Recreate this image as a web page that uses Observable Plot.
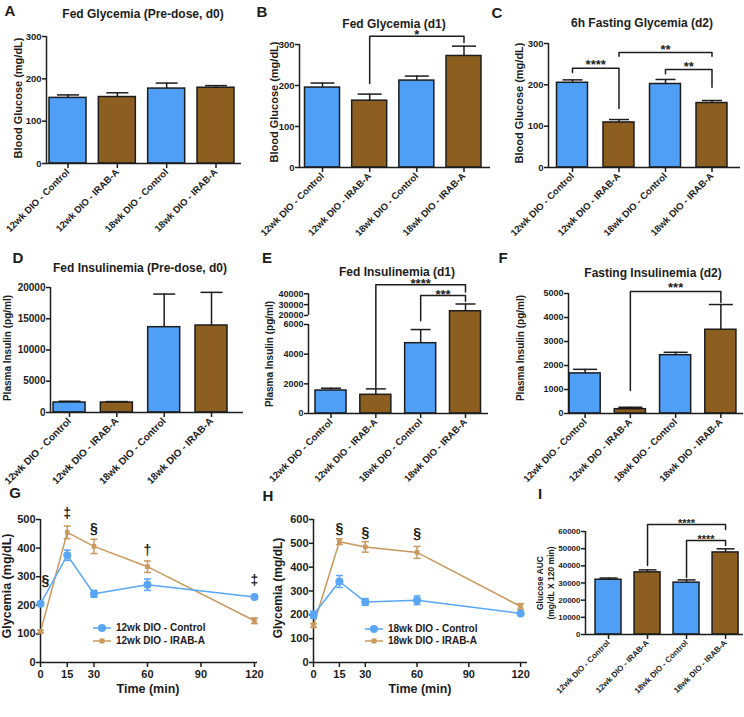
<!DOCTYPE html>
<html><head><meta charset="utf-8">
<script src="https://cdn.jsdelivr.net/npm/d3@7"></script>
<script src="https://cdn.jsdelivr.net/npm/@observablehq/plot@0.6"></script>
<style>
html,body{margin:0;padding:0;background:#fff;}
#fig{position:relative;width:744px;height:717px;overflow:hidden;font-family:'Liberation Sans',Arial,Helvetica,sans-serif;color:#1c1c1c;background:#fff;}
.panel{position:absolute;}
.panel svg{overflow:visible;}
.t{position:absolute;white-space:nowrap;line-height:1;font-weight:bold;transform:translate(-50%,-50%);}
.leg{position:absolute;display:flex;align-items:center;font-weight:bold;white-space:nowrap;line-height:1;}
</style></head><body><div id="fig"></div><script>
// ---------- data ----------
const groups = ["12wk DIO - Control", "12wk DIO - IRAB-A", "18wk DIO - Control", "18wk DIO - IRAB-A"];
const barColors = ["#4f9ff7", "#8c5f21", "#4f9ff7", "#8c5f21"];

const fedGlyD0Mean = [155, 157, 177, 179];
const fedGlyD0Sem  = [7, 10, 13, 5];
const fedGlyD1Mean = [195, 163, 212, 272];
const fedGlyD1Sem  = [11, 16, 11, 24];
const fastGlyD2Mean = [205, 109, 202, 156];
const fastGlyD2Sem  = [7, 7, 11, 6];
const fedInsD0Mean = [1600, 1600, 13650, 13920];
const fedInsD0Sem  = [200, 150, 5300, 5300];
const fedInsD1Mean = [1550, 1260, 4740, 23900];
const fedInsD1Sem  = [155, 400, 920, 6700];
const fastInsD2Mean = [1670, 180, 2430, 3490];
const fastInsD2Sem  = [170, 80, 120, 1050];
const aucMean = [31900, 36200, 30200, 47800];
const aucSem  = [1000, 1450, 1600, 2100];

const ticksGly = [0, 100, 200, 300];
const ticksInsD0 = [0, 5000, 10000, 15000, 20000];
const ticksInsD1 = [0, 2000, 4000, 6000, 20000, 30000, 40000];
const ticksInsD2 = [0, 1000, 2000, 3000, 4000, 5000];
const ticksAuc = [0, 10000, 20000, 30000, 40000, 50000, 60000];
const ticksG = [0, 100, 200, 300, 400, 500];
const ticksH = [0, 100, 200, 300, 400, 500, 600];
const timeTicks = [0, 15, 30, 60, 90, 120];

// significance brackets (group index from/to, bracket heights in data units)
const bracketsB = [{from: 2, to: 4, top: 320, yFrom: 205, yTo: 305, label: "*"}];
const bracketsC = [
  {from: 1, to: 2, top: 240, yFrom: 230, yTo: 143, label: "****"},
  {from: 2, to: 4, top: 278, yFrom: 269, yTo: 269, label: "**"},
  {from: 3, to: 4, top: 237, yFrom: 227, yTo: 194, label: "**"}
];
const bracketsE = [
  {from: 2, to: 4, top: 48300, yFrom: 1750, yTo: 41600, label: "****"},
  {from: 3, to: 4, top: 38400, yFrom: 12000, yTo: 33200, label: "***"}
];
const bracketsF = [{from: 2, to: 4, top: 5083, yFrom: 958, yTo: 4625, label: "***"}];
const bracketsI = [
  {from: 2, to: 4, top: 64080, yFrom: 40190, yTo: 61170, label: "****"},
  {from: 3, to: 4, top: 54760, yFrom: 33200, yTo: 51840, label: "****"}
];

// GTT time courses
const timeMin = [0, 15, 30, 60, 120];
const ctrl12 = [205, 375, 240, 272, 229];
const ctrl12Sem = [5, 18, 12, 20, 5];
const irab12 = [108, 455, 406, 335, 146];
const irab12Sem = [5, 22, 25, 20, 10];
const ctrl18 = [200, 340, 254, 261, 206];
const ctrl18Sem = [15, 25, 14, 18, 5];
const irab18 = [155, 507, 485, 462, 235];
const irab18Sem = [8, 12, 22, 25, 12];
const sigG = [{t: 0, y: 287, s: "§"}, {t: 15, y: 521, s: "‡"}, {t: 30, y: 468, s: "§"}, {t: 60, y: 392, s: "†"}, {t: 120, y: 287, s: "‡"}];
const sigH = [{t: 15, y: 562, s: "§"}, {t: 30, y: 545, s: "§"}, {t: 60, y: 541, s: "§"}];

// ---------- rendering ----------
const ink = "#1c1c1c";
const blue = "#58a6f5", tan = "#c8985c";
const FONT = "'Liberation Sans', Arial, Helvetica, sans-serif";
const fig = document.getElementById("fig");
const hline = {draw(ctx, size) { const r = Math.sqrt(size / Math.PI); ctx.moveTo(-r, 0); ctx.lineTo(r, 0); }};
const plain = d => String(d);

function place(svg, box) {
  const d = document.createElement("div");
  d.className = "panel";
  d.style.left = box[0] + "px"; d.style.top = box[1] + "px";
  d.appendChild(svg);
  fig.appendChild(d);
}
function addText(str, x, y, size, rotate) {
  const d = document.createElement("div");
  d.className = "t";
  d.textContent = str;
  d.style.left = x + "px"; d.style.top = y + "px"; d.style.fontSize = size + "px";
  if (rotate) d.style.transform = `translate(-50%,-50%) rotate(${rotate}deg)`;
  fig.appendChild(d);
}

function barPanel(p) {
  const rows = groups.map((g, k) => ({i: k + 1, g, mean: p.mean[k], sem: p.sem[k], color: barColors[k]}));
  const [left, top, w, h] = p.box;
  const segs = p.axisSegs || [[p.yDomain[0], p.yDomain[p.yDomain.length - 1]]];
  const marks = [
    Plot.rect(rows, {x1: d => d.i - p.hw, x2: d => d.i + p.hw, y1: 0, y2: "mean", fill: "color", stroke: ink, strokeWidth: 1.5}),
    Plot.ruleX(rows, {x: "i", y1: "mean", y2: d => d.mean + d.sem, stroke: ink, strokeWidth: 1.5}),
    Plot.dot(rows, {x: "i", y: d => d.mean + d.sem, r: p.cap, symbol: hline, fill: "none", stroke: ink, strokeWidth: 1.5}),
    Plot.ruleX(segs, {x: () => p.xDomain[0], y1: s => s[0], y2: s => s[1], stroke: ink, strokeWidth: 1.5}),
    Plot.ruleY([0], {stroke: ink, strokeWidth: 1.5}),
    Plot.axisY({ticks: p.yTicks, tickFormat: plain, tickSize: 4, tickPadding: 1, fontSize: p.yFont, fontWeight: "bold", strokeWidth: 1.5, label: null}),
    Plot.axisX({ticks: [1, 2, 3, 4], tickFormat: i => groups[i - 1], tickRotate: -45, tickSize: 5, tickPadding: 2, fontSize: p.xFont, fontWeight: "bold", strokeWidth: 1.5, label: null})
  ];
  if (p.brackets) {
    const pts = p.brackets.flatMap((b, k) => [
      {id: k, x: b.from, y: b.yFrom}, {id: k, x: b.from, y: b.top},
      {id: k, x: b.to, y: b.top}, {id: k, x: b.to, y: b.yTo}
    ]);
    marks.push(Plot.line(pts, {x: "x", y: "y", z: "id", stroke: ink, strokeWidth: 1.5}));
    marks.push(Plot.text(p.brackets, {x: b => (b.from + b.to) / 2, y: "top", text: "label", fontSize: p.starFont, fontWeight: "bold", lineAnchor: "bottom", dy: p.starDy, fill: ink}));
  }
  const svg = Plot.plot({
    width: w, height: h,
    marginLeft: p.m[0], marginRight: p.m[1], marginTop: p.m[2], marginBottom: p.m[3],
    x: {type: "linear", domain: p.xDomain},
    y: p.yRange ? {type: "linear", domain: p.yDomain, range: p.yRange} : {type: "linear", domain: p.yDomain},
    color: {type: "identity"},
    style: {fontFamily: FONT, color: ink, background: "transparent", overflow: "visible"},
    marks
  });
  place(svg, p.box);
}

function linePanel(p) {
  const mk = (vals, sems) => p.t.map((t, k) => ({t, v: vals[k], sem: sems[k]}));
  const c = mk(p.ctrl, p.ctrlSem), r = mk(p.irab, p.irabSem);
  const [left, top, w, h] = p.box;
  const marks = [
    Plot.ruleX([p.xDomain[0]], {y1: p.yDomain[0], y2: p.yDomain[1], stroke: ink, strokeWidth: 1.5}),
    Plot.ruleY([0], {stroke: ink, strokeWidth: 1.5}),
    Plot.axisY({ticks: p.yTicks, tickFormat: plain, tickSize: 4, tickPadding: 1, fontSize: 11, fontWeight: "bold", strokeWidth: 1.5, label: null}),
    Plot.axisX({ticks: timeTicks, tickFormat: plain, tickSize: 5, tickPadding: 3, fontSize: 11, fontWeight: "bold", strokeWidth: 1.5, label: null})
  ];
  for (const [rows, color, dot] of [[r, tan, {r: 2.6, symbol: "square"}], [c, blue, {r: 4}]]) {
    marks.push(Plot.line(rows, {x: "t", y: "v", stroke: color, strokeWidth: 1.5}));
    marks.push(Plot.ruleX(rows, {x: "t", y1: d => d.v - d.sem, y2: d => d.v + d.sem, stroke: color, strokeWidth: 1.5}));
    marks.push(Plot.dot(rows, {x: "t", y: d => d.v + d.sem, r: 3.5, symbol: hline, fill: "none", stroke: color, strokeWidth: 1.5}));
    marks.push(Plot.dot(rows, {x: "t", y: d => d.v - d.sem, r: 3.5, symbol: hline, fill: "none", stroke: color, strokeWidth: 1.5}));
    marks.push(Plot.dot(rows, {x: "t", y: "v", fill: color, ...dot}));
  }
  marks.push(Plot.text(p.sig.filter(d => d.t > 0), {x: "t", y: "y", text: "s", fontSize: 14, fontWeight: "bold", fill: ink}));
  marks.push(Plot.text(p.sig.filter(d => d.t === 0), {x: "t", y: "y", text: "s", fontSize: 14, fontWeight: "bold", fill: ink, textAnchor: "start", dx: 1}));
  const svg = Plot.plot({
    width: w, height: h,
    marginLeft: p.m[0], marginRight: p.m[1], marginTop: p.m[2], marginBottom: p.m[3],
    x: {type: "linear", domain: p.xDomain},
    y: {type: "linear", domain: p.yDomain},
    style: {fontFamily: FONT, color: ink, background: "transparent", overflow: "visible"},
    marks
  });
  place(svg, p.box);
}

function legend(x, y, items) {
  items.forEach((it, k) => {
    const d = document.createElement("div");
    d.className = "leg";
    d.style.left = x + "px"; d.style.top = (y + k * it.gap - 6) + "px"; d.style.fontSize = "10px"; d.style.height = "12px";
    const marker = it.square
      ? `<rect x="6.5" y="3.5" width="5" height="5" fill="${it.color}"/>`
      : `<circle cx="9" cy="6" r="4" fill="${it.color}"/>`;
    d.innerHTML = `<svg width="18" height="12" style="margin-right:5px"><line x1="0" x2="18" y1="6" y2="6" stroke="${it.color}" stroke-width="1.5"/>${marker}</svg><span>${it.label}</span>`;
    fig.appendChild(d);
  });
}

// Row 1
barPanel({box: [0, 0, 245, 240], m: [46, 4, 36, 77], xDomain: [0.564, 4.517], yDomain: [0, 300], yTicks: ticksGly,
  mean: fedGlyD0Mean, sem: fedGlyD0Sem, hw: 0.375, cap: 11, yFont: 9.5, xFont: 9.5});
barPanel({box: [245, 0, 245, 240], m: [54, 0, 44, 73], xDomain: [0.512, 4.562], yDomain: [0, 300], yTicks: ticksGly,
  mean: fedGlyD1Mean, sem: fedGlyD1Sem, hw: 0.371, cap: 12, yFont: 9.5, xFont: 9.5, brackets: bracketsB, starFont: 13, starDy: 3});
barPanel({box: [490, 0, 254, 240], m: [58, 4, 43, 73], xDomain: [0.484, 4.613], yDomain: [0, 300], yTicks: ticksGly,
  mean: fastGlyD2Mean, sem: fastGlyD2Sem, hw: 0.333, cap: 10, yFont: 9.5, xFont: 9.5, brackets: bracketsC, starFont: 13, starDy: 1});
// Row 2
barPanel({box: [0, 240, 245, 240], m: [50, 2, 47, 68], xDomain: [0.598, 4.676], yDomain: [0, 20000], yTicks: ticksInsD0,
  mean: fedInsD0Mean, sem: fedInsD0Sem, hw: 0.338, cap: 11, yFont: 10, xFont: 10});
barPanel({box: [245, 240, 245, 240], m: [63, 2, 53, 67], xDomain: [0.498, 4.513], yDomain: [0, 6000, 20000, 40000], yRange: [173, 84, 75, 53.3],
  yTicks: ticksInsD1, axisSegs: [[0, 6000], [20000, 40000]],
  mean: fedInsD1Mean, sem: fedInsD1Sem, hw: 0.346, cap: 10, yFont: 9, xFont: 9.5, brackets: bracketsE, starFont: 13, starDy: 3});
barPanel({box: [490, 240, 254, 240], m: [78, 1, 53, 67], xDomain: [0.633, 4.5], yDomain: [0, 5000], yTicks: ticksInsD2,
  mean: fastInsD2Mean, sem: fastInsD2Sem, hw: 0.344, cap: 12, yFont: 9, xFont: 9.5, brackets: bracketsF, starFont: 13, starDy: 0});
// Row 3
linePanel({box: [0, 480, 262, 237], m: [40, 5, 39, 55], xDomain: [0, 121.7], yDomain: [0, 500], yTicks: ticksG,
  t: timeMin, ctrl: ctrl12, ctrlSem: ctrl12Sem, irab: irab12, irabSem: irab12Sem, sig: sigG});
linePanel({box: [262, 480, 268, 237], m: [51, 3, 39, 55], xDomain: [0, 124], yDomain: [0, 600], yTicks: ticksH,
  t: timeMin, ctrl: ctrl18, ctrlSem: ctrl18Sem, irab: irab18, irabSem: irab18Sem, sig: sigH});
barPanel({box: [490, 480, 254, 237], m: [95, 1, 51, 83], xDomain: [0.41, 4.46], yDomain: [0, 60000], yTicks: ticksAuc,
  mean: aucMean, sem: aucSem, hw: 0.333, cap: 9, yFont: 8, xFont: 8, brackets: bracketsI, starFont: 11, starDy: 2.5});

// Panel letters
[["A", 10, 10], ["B", 262, 11], ["C", 497, 12], ["D", 18, 257], ["E", 267, 257], ["F", 503, 257], ["G", 15, 492], ["H", 268, 495], ["I", 540, 493]]
  .forEach(([s, x, y]) => addText(s, x, y, 15));
// Titles
addText("Fed Glycemia (Pre-dose, d0)", 143, 14, 12);
addText("Fed Glycemia (d1)", 394, 23.5, 12);
addText("6h Fasting Glycemia (d2)", 642, 22.5, 12);
addText("Fed Insulinemia (Pre-dose, d0)", 140, 267.5, 12);
addText("Fed Insulinemia (d1)", 397, 272, 12);
addText("Fasting Insulinemia (d2)", 653, 273, 12);
// Axis labels
addText("Blood Glucose (mg/dL)", 17.5, 98, 11, -90);
addText("Blood Glucose (mg/dL)", 274, 102, 11, -90);
addText("Blood Glucose (mg/dL)", 519, 103, 11, -90);
addText("Plasma Insulin (pg/ml)", 7.5, 348, 10, -90);
addText("Plasma Insulin (pg/ml)", 270, 354, 10, -90);
addText("Plasma Insulin (pg/ml)", 521, 348, 10, -90);
addText("Glycemia (mg/dL)", 7, 586, 12.5, -90);
addText("Glycemia (mg/dL)", 278, 588, 12, -90);
addText("Glucose AUC", 540, 583, 8.5, -90);
addText("(mg/dL X 120 min)", 551, 583, 8.5, -90);
addText("Time (min)", 148, 689, 12.5);
addText("Time (min)", 420, 689, 12.5);
// Legends
legend(93, 628, [{label: "12wk DIO - Control", color: blue, gap: 12.5}, {label: "12wk DIO - IRAB-A", color: tan, square: true, gap: 12.5}]);
legend(365, 628.5, [{label: "18wk DIO - Control", color: blue, gap: 12.5}, {label: "18wk DIO - IRAB-A", color: tan, square: true, gap: 12.5}]);
</script></body></html>
